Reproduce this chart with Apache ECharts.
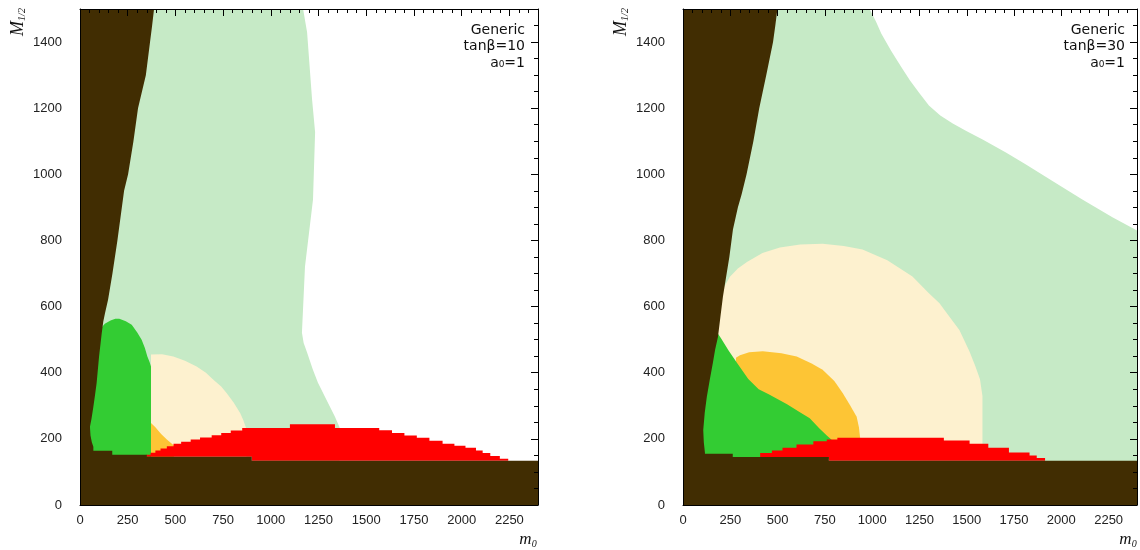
<!DOCTYPE html>
<html>
<head>
<meta charset="utf-8">
<script src="https://cdn.jsdelivr.net/npm/echarts@6/dist/echarts.min.js"></script>
<style>
html,body{margin:0;padding:0;background:#fff;}
#chart{width:1140px;height:550px;}
</style>
</head>
<body>
<div id="chart"></div>
<script>
// ---------- axes ----------
const xMin = 0, xMax = 2400, xStep = 250;
const yMin = 0, yMax = 1500, yStep = 200;
const panelTitles = [["Generic", "tanβ=10", "a₀=1"], ["Generic", "tanβ=30", "a₀=1"]];

// ---------- tanβ = 10 (left panel) : region outlines [m0, M1/2] ----------
const wedge10 = [[388,1500],[378,1450],[367,1400],[345,1300],[304,1200],[280,1100],[252,1000],[231,950],[196,800],[170,700],[147,621],[131,580],[122,555],[114,520],[108,490],[100,450],[87,368],[78,330],[70,297],[60,260],[52,237],[55,210],[62,190],[70,176]];
const band10 = [[70,164],[169,164],[169,152],[350,152],[350,146],[900,146],[900,134],[2400,134]];
const dotted10 = [[0,1500],[1169,1500],[1190,1430],[1216,1227],[1232,1127],[1221,924],[1179,721],[1163,521],[1172,490],[1190,461],[1220,410],[1247,370],[1290,320],[1336,267],[1360,235],[1360,130],[0,130]];
const yellow10 = [[372,455],[430,456],[489,449],[550,436],[611,419],[660,400],[699,379],[740,358],[769,338],[805,310],[839,278],[855,258],[872,230],[872,140],[372,140]];
const orange10 = [[372,248],[395,235],[425,215],[455,198],[492,180],[492,140],[350,140],[350,150],[372,150]];
const green10 = [[206,563],[240,556],[271,545],[300,522],[323,500],[340,475],[353,449],[365,432],[372,419],[372,140],[20,140],[20,500],[100,528],[130,548],[160,558],[185,563]];
const red10 = [[347,146],[347,152],[370,152],[370,158],[395,158],[395,165],[422,165],[422,171],[455,171],[455,178],[490,178],[490,185],[530,185],[530,191],[580,191],[580,198],[629,198],[629,204],[690,204],[690,211],[740,211],[740,218],[790,218],[790,225],[850,225],[850,233],[1100,233],[1100,244],[1336,244],[1336,233],[1568,233],[1568,226],[1635,226],[1635,218],[1700,218],[1700,210],[1765,210],[1765,203],[1831,203],[1831,194],[1900,194],[1900,185],[1962,185],[1962,179],[2020,179],[2020,173],[2075,173],[2075,165],[2110,165],[2110,157],[2150,157],[2150,148],[2200,148],[2200,140],[2244,140],[2244,134],[900,134],[900,146]];

// ---------- tanβ = 30 (right panel) ----------
const wedge30 = [[499,1500],[488,1450],[476,1400],[440,1300],[403,1200],[372,1100],[336,1000],[310,940],[290,900],[264,833],[245,750],[225,680],[211,630],[198,570],[185,509],[170,470],[158,430],[142,380],[126,327],[115,280],[107,227],[110,190],[116,158]];
const band30 = [[116,155],[263,155],[263,145],[771,145],[771,134],[2400,134]];
const dotted30 = [[0,1500],[986,1500],[1020,1462],[1048,1426],[1100,1374],[1153,1325],[1200,1284],[1250,1245],[1300,1208],[1360,1178],[1426,1154],[1500,1130],[1584,1105],[1707,1066],[1813,1030],[1953,980],[2111,924],[2270,870],[2400,830],[2400,130],[0,130]];
const yellow30 = [[150,650],[213,655],[248,690],[290,715],[338,735],[420,762],[512,779],[620,788],[738,790],[850,783],[949,773],[1080,740],[1213,691],[1300,640],[1356,610],[1392,582],[1461,529],[1514,465],[1545,420],[1570,380],[1583,330],[1583,140],[150,140]];
const orange30 = [[280,445],[301,453],[350,462],[422,465],[520,459],[601,449],[680,428],[738,409],[800,375],[844,339],[880,305],[918,267],[930,235],[936,205],[936,140],[280,140]];
const green30 = [[185,518],[200,505],[240,468],[285,430],[345,381],[400,350],[453,335],[550,305],[620,280],[670,262],[720,232],[760,210],[790,195],[790,140],[60,140],[60,518]];
const red30 = [[408,145],[408,157],[470,157],[470,165],[526,165],[526,173],[600,173],[600,183],[689,183],[689,193],[760,193],[760,198],[816,198],[816,203],[1379,203],[1379,195],[1515,195],[1515,185],[1614,185],[1614,173],[1723,173],[1723,159],[1832,159],[1832,150],[1870,150],[1870,142],[1914,142],[1914,134],[771,134],[771,145]];

// ---------- build ----------
const COL = {
  dotted: '#c6eac6', yellow: '#fdf1cf', orange: '#fdc535',
  green: '#33cc33', red: '#ff0000', brown: '#412d02'
};
function brownOutline(wedge, band) {
  return [[xMin, yMax]].concat(wedge, band, [[xMax, yMin], [xMin, yMin]]);
}
function poly(panel, pts, color) {
  return {
    type: 'custom', xAxisIndex: panel * 2, yAxisIndex: panel * 2,
    data: [0], clip: true, silent: true, animation: false,
    renderItem: function (params, api) {
      return { type: 'polygon', shape: { points: pts.map(p => api.coord(p)) }, style: { fill: color } };
    }
  };
}
const panels = [
  [dotted10, yellow10, orange10, green10, red10, brownOutline(wedge10, band10)],
  [dotted30, yellow30, orange30, green30, red30, brownOutline(wedge30, band30)]
];
const order = ['dotted', 'yellow', 'orange', 'green', 'red', 'brown'];
const series = [];
panels.forEach((regs, pi) => regs.forEach((pts, ri) => series.push(poly(pi, pts, COL[order[ri]]))));

const labelFont = { fontFamily: 'Liberation Sans', fontSize: 13, color: '#222' };
const grids = [
  { left: 80, top: 9, width: 458, height: 496 },
  { left: 683, top: 9, width: 455, height: 496 }
];
const xAxis = [], yAxis = [];
grids.forEach((g, i) => {
  xAxis.push({
    type: 'value', gridIndex: i, min: xMin, max: xMax, interval: xStep, position: 'bottom', z: 10,
    axisLine: { show: true, onZero: false, lineStyle: { color: '#000', width: 1 } },
    axisTick: { show: false }, splitLine: { show: false },
    axisLabel: Object.assign({ margin: 9, formatter: v => (v % xStep === 0 ? String(v) : '') }, labelFont)
  });
  xAxis.push({
    type: 'value', gridIndex: i, min: xMin, max: xMax, interval: xStep, position: 'top', z: 10,
    axisLine: { show: true, onZero: false, lineStyle: { color: '#000', width: 1 } },
    axisTick: { show: true, inside: true, length: 7, lineStyle: { color: '#000' } },
    minorTick: { show: true, splitNumber: 5, length: 4, lineStyle: { color: '#000' } },
    axisLabel: { show: false }, splitLine: { show: false }
  });
  yAxis.push({
    type: 'value', gridIndex: i, min: yMin, max: yMax, interval: yStep, position: 'left', z: 10,
    axisLine: { show: true, onZero: false, lineStyle: { color: '#000', width: 1 } },
    axisTick: { show: false }, splitLine: { show: false },
    axisLabel: Object.assign({ margin: 18, formatter: v => (v % yStep === 0 ? String(v) : '') }, labelFont)
  });
  yAxis.push({
    type: 'value', gridIndex: i, min: yMin, max: yMax, interval: yStep, position: 'right', z: 10,
    axisLine: { show: true, onZero: false, lineStyle: { color: '#000', width: 1 } },
    axisTick: { show: true, inside: true, length: 7, lineStyle: { color: '#000' } },
    minorTick: { show: true, splitNumber: 4, length: 4, lineStyle: { color: '#000' } },
    axisLabel: { show: false }, splitLine: { show: false }
  });
});

const graphic = [];
const serif = '"Liberation Serif", "DejaVu Serif", serif';
grids.forEach((g, i) => {
  const right = g.left + g.width - 13;
  panelTitles[i].forEach((t, k) => {
    graphic.push({ type: 'text', x: right, y: 30 + k * 16.5, z: 20,
      style: { text: t, align: 'right', verticalAlign: 'middle', font: '14px "DejaVu Sans"', fill: '#111' } });
  });
  // y title
  graphic.push({ type: 'text', x: g.left - 62, y: 22, rotation: Math.PI / 2, z: 20,
    style: { text: '{m|M}{s|1/2}', align: 'center', verticalAlign: 'middle',
      rich: { m: { fontFamily: serif, fontStyle: 'italic', fontSize: 18, fill: '#111', lineHeight: 19 },
              s: { fontFamily: serif, fontStyle: 'italic', fontSize: 10, fill: '#111', lineHeight: 19, verticalAlign: 'bottom' } } } });
  // x title
  graphic.push({ type: 'text', x: g.left + g.width - 10, y: 540, z: 20,
    style: { text: '{m|m}{s|0}', align: 'center', verticalAlign: 'middle',
      rich: { m: { fontFamily: serif, fontStyle: 'italic', fontSize: 17, fill: '#111', lineHeight: 18 },
              s: { fontFamily: serif, fontStyle: 'italic', fontSize: 10, fill: '#111', lineHeight: 18, verticalAlign: 'bottom' } } } });
});

const chart = echarts.init(document.getElementById('chart'), null, { renderer: 'canvas' });
chart.setOption({
  backgroundColor: '#fff', animation: false,
  grid: grids, xAxis: xAxis, yAxis: yAxis, series: series, graphic: graphic
});
</script>
</body>
</html>
